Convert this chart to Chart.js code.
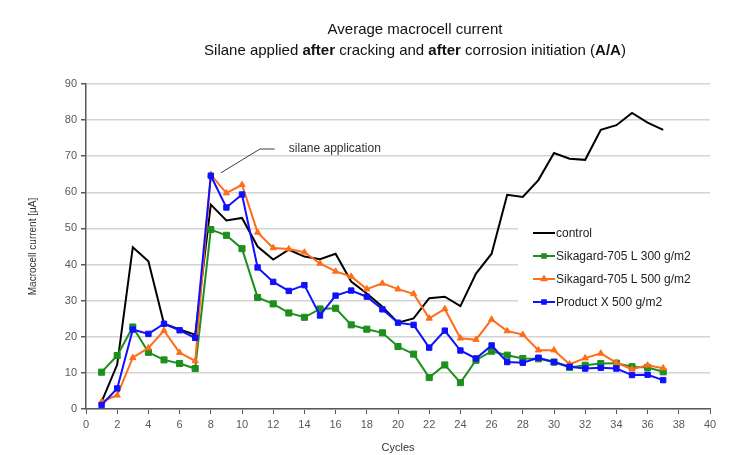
<!DOCTYPE html>
<html>
<head>
<meta charset="utf-8">
<script src="https://cdn.jsdelivr.net/npm/chart.js@4.4.1/dist/chart.umd.min.js"></script>
<style>
    html, body { margin: 0; padding: 0; background: #fff; }
    #wrap { position: relative; width: 742px; height: 455px; font-family: "Liberation Sans", Arial, sans-serif; }
    #title {
        position: absolute; left: 415px; top: 18px; transform: translateX(-50%);
        white-space: nowrap; text-align: center; font-size: 15px; line-height: 21px; color: #111;
    }
</style>
</head>
<body>
<div id="wrap">
    <canvas id="chart" width="742" height="455"></canvas>
    <div id="title">
        Average macrocell current<br>
        Silane applied <b>after</b> cracking and <b>after</b> corrosion initiation (<b>A/A</b>)
    </div>
</div>
<script>
// Cycle numbers (x values)
const cycles = [1, 2, 3, 4, 5, 6, 7, 8, 9, 10, 11, 12, 13, 14, 15, 16, 17, 18, 19, 20,
    21, 22, 23, 24, 25, 26, 27, 28, 29, 30, 31, 32, 33, 34, 35, 36, 37];

// Macrocell current [µA] per cycle
const control = [2, 12.3, 44.8, 40.9, 23.6, 22, 20.6, 56.6, 52.2, 52.9, 45, 41.4, 44.1, 42.2, 41.5,
    43, 35.3, 32, 28.3, 23.9, 25.1, 30.7, 31.1, 28.5, 37.5, 43, 59.3, 58.7, 63.4, 70.9, 69.3, 69,
    77.3, 78.6, 82, 79.3, 77.3];
const sika300 = [10.2, 14.8, 22.7, 15.7, 13.6, 12.6, 11.2, 49.7, 48.1, 44.4, 30.9, 29.1, 26.6, 25.4,
    27.7, 27.9, 23.3, 22.1, 21.1, 17.3, 15.2, 8.7, 12.2, 7.3, 13.5, 16, 14.9, 14, 13.9, 13, 11.5,
    12.1, 12.6, 12.7, 11.7, 11.5, 10.3];
const sika500 = [2, 3.8, 14.2, 16.9, 21.7, 15.6, 13.3, 64.9, 59.8, 62.1, 48.9, 44.6, 44.3, 43.4,
    40.3, 38.1, 36.7, 33.2, 34.8, 33.2, 31.9, 25.1, 27.7, 19.6, 19.2, 24.8, 21.6, 20.6, 16.3, 16.3,
    12.4, 14.1, 15.4, 12.8, 11, 12.1, 11.3];
const productX = [1.1, 5.7, 22, 20.8, 23.6, 21.8, 19.7, 64.6, 55.8, 59.4, 39.2, 35.2, 32.7, 34.3,
    25.9, 31.4, 32.8, 31.1, 27.6, 23.9, 23.3, 17, 21.7, 16.2, 14, 17.6, 13, 12.8, 14.2, 13, 11.7,
    11.2, 11.4, 11.2, 9.4, 9.5, 8];

const seriesNames = ['control', 'Sikagard-705 L 300 g/m2', 'Sikagard-705 L 500 g/m2', 'Product X 500 g/m2'];
const seriesColors = ['#000000', '#1d8f1d', '#ff6d1a', '#1010ff'];
const seriesMarkers = [false, 'rect', 'triangle', 'rect'];
const markerRadius = [0, 4.3, 3.6, 3.8];

// Axis ranges
const X_MIN = 0, X_MAX = 40, X_STEP = 2;
const Y_MIN = 0, Y_MAX = 90, Y_STEP = 10;

// Callout "silane application" (in data units)
const calloutPath = [[8.65, 65.4], [11.15, 72], [12.1, 72]];
const calloutText = { x: 13.0, y: 72.2, text: 'silane application' };

const FONT = '"Liberation Sans", Arial, sans-serif';
const AXIS = '#595959';

function pts(values) {
    return cycles.map((c, i) => ({ x: c, y: values[i] }));
}

const datasets = [control, sika300, sika500, productX].map((vals, i) => ({
    label: seriesNames[i],
    data: pts(vals),
    borderColor: seriesColors[i],
    backgroundColor: seriesColors[i],
    pointBackgroundColor: seriesColors[i],
    pointBorderColor: seriesColors[i],
    borderWidth: 2,
    pointStyle: seriesMarkers[i] || 'circle',
    pointRadius: markerRadius[i],
    pointBorderWidth: 1,
    tension: 0,
    order: 4 - i      // later series on top, like the original
}));

// Legend box drawn inside the plot, over the grid
const legendBox = { x: 518, y: 217, w: 194, h: 100, x0: 533, x1: 555, textX: 556, rowY: [233, 256, 279, 302] };

const overlayPlugin = {
    id: 'overlay',
    beforeDatasetsDraw(chart) {
        const ctx = chart.ctx;
        ctx.save();
        ctx.fillStyle = '#fff';
        ctx.fillRect(legendBox.x, legendBox.y, legendBox.w, legendBox.h);
        ctx.restore();
    },
    afterDatasetsDraw(chart) {
        const ctx = chart.ctx;
        const xs = chart.scales.x, ys = chart.scales.y;
        ctx.save();
        // callout
        ctx.strokeStyle = '#404040';
        ctx.lineWidth = 1;
        ctx.beginPath();
        calloutPath.forEach((p, i) => {
            const px = xs.getPixelForValue(p[0]), py = ys.getPixelForValue(p[1]);
            if (i === 0) ctx.moveTo(px, py); else ctx.lineTo(px, py);
        });
        ctx.stroke();
        ctx.fillStyle = '#333';
        ctx.font = '12px ' + FONT;
        ctx.textBaseline = 'middle';
        ctx.fillText(calloutText.text, xs.getPixelForValue(calloutText.x), ys.getPixelForValue(calloutText.y));

        // legend
        chart.data.datasets.forEach((ds, i) => {
            const y = legendBox.rowY[i];
            ctx.strokeStyle = ds.borderColor;
            ctx.lineWidth = 2;
            ctx.beginPath();
            ctx.moveTo(legendBox.x0, y);
            ctx.lineTo(legendBox.x1, y);
            ctx.stroke();
            if (seriesMarkers[i]) {
                ctx.fillStyle = ds.borderColor;
                Chart.helpers.drawPoint(ctx, {
                    pointStyle: seriesMarkers[i], radius: 2.6, borderWidth: 1, rotation: 0
                }, (legendBox.x0 + legendBox.x1) / 2, y);
                ctx.fill();
            }
            ctx.fillStyle = '#222';
            ctx.font = '12px ' + FONT;
            ctx.textBaseline = 'middle';
            ctx.fillText(ds.label, legendBox.textX, y + 1);
        });
        ctx.restore();
    }
};

new Chart(document.getElementById('chart'), {
    type: 'line',
    data: { datasets: datasets },
    plugins: [overlayPlugin],
    options: {
        responsive: false,
        animation: false,
        layout: { padding: { top: 84, right: 32, left: 0, bottom: 0 } },
        plugins: {
            legend: { display: false },
            tooltip: { enabled: false },
            title: { display: false }
        },
        scales: {
            x: {
                type: 'linear',
                min: X_MIN, max: X_MAX,
                afterFit: (s) => { s.height = 46; },
                ticks: { stepSize: X_STEP, color: AXIS, font: { family: FONT, size: 11 }, padding: 4, maxRotation: 0 },
                grid: { color: 'rgba(0,0,0,0)', tickColor: AXIS, tickLength: 5, drawOnChartArea: false },
                border: { display: true, color: AXIS, width: 1.5 },
                title: { display: true, text: 'Cycles', color: '#333', font: { family: FONT, size: 11 }, padding: { top: 0, bottom: 0 } }
            },
            y: {
                min: Y_MIN, max: Y_MAX,
                afterFit: (s) => { s.width = 86; },
                ticks: { stepSize: Y_STEP, color: AXIS, font: { family: FONT, size: 11 }, padding: 4 },
                grid: { color: '#d4d4d4', lineWidth: 1.5, tickColor: AXIS, tickLength: 5 },
                border: { display: true, color: AXIS, width: 1.5 },
                title: { display: true, text: 'Macrocell current [µA]', color: '#333', font: { family: FONT, size: 10 }, padding: { top: 27, bottom: 0 } }
            }
        }
    }
});
</script>
</body>
</html>
